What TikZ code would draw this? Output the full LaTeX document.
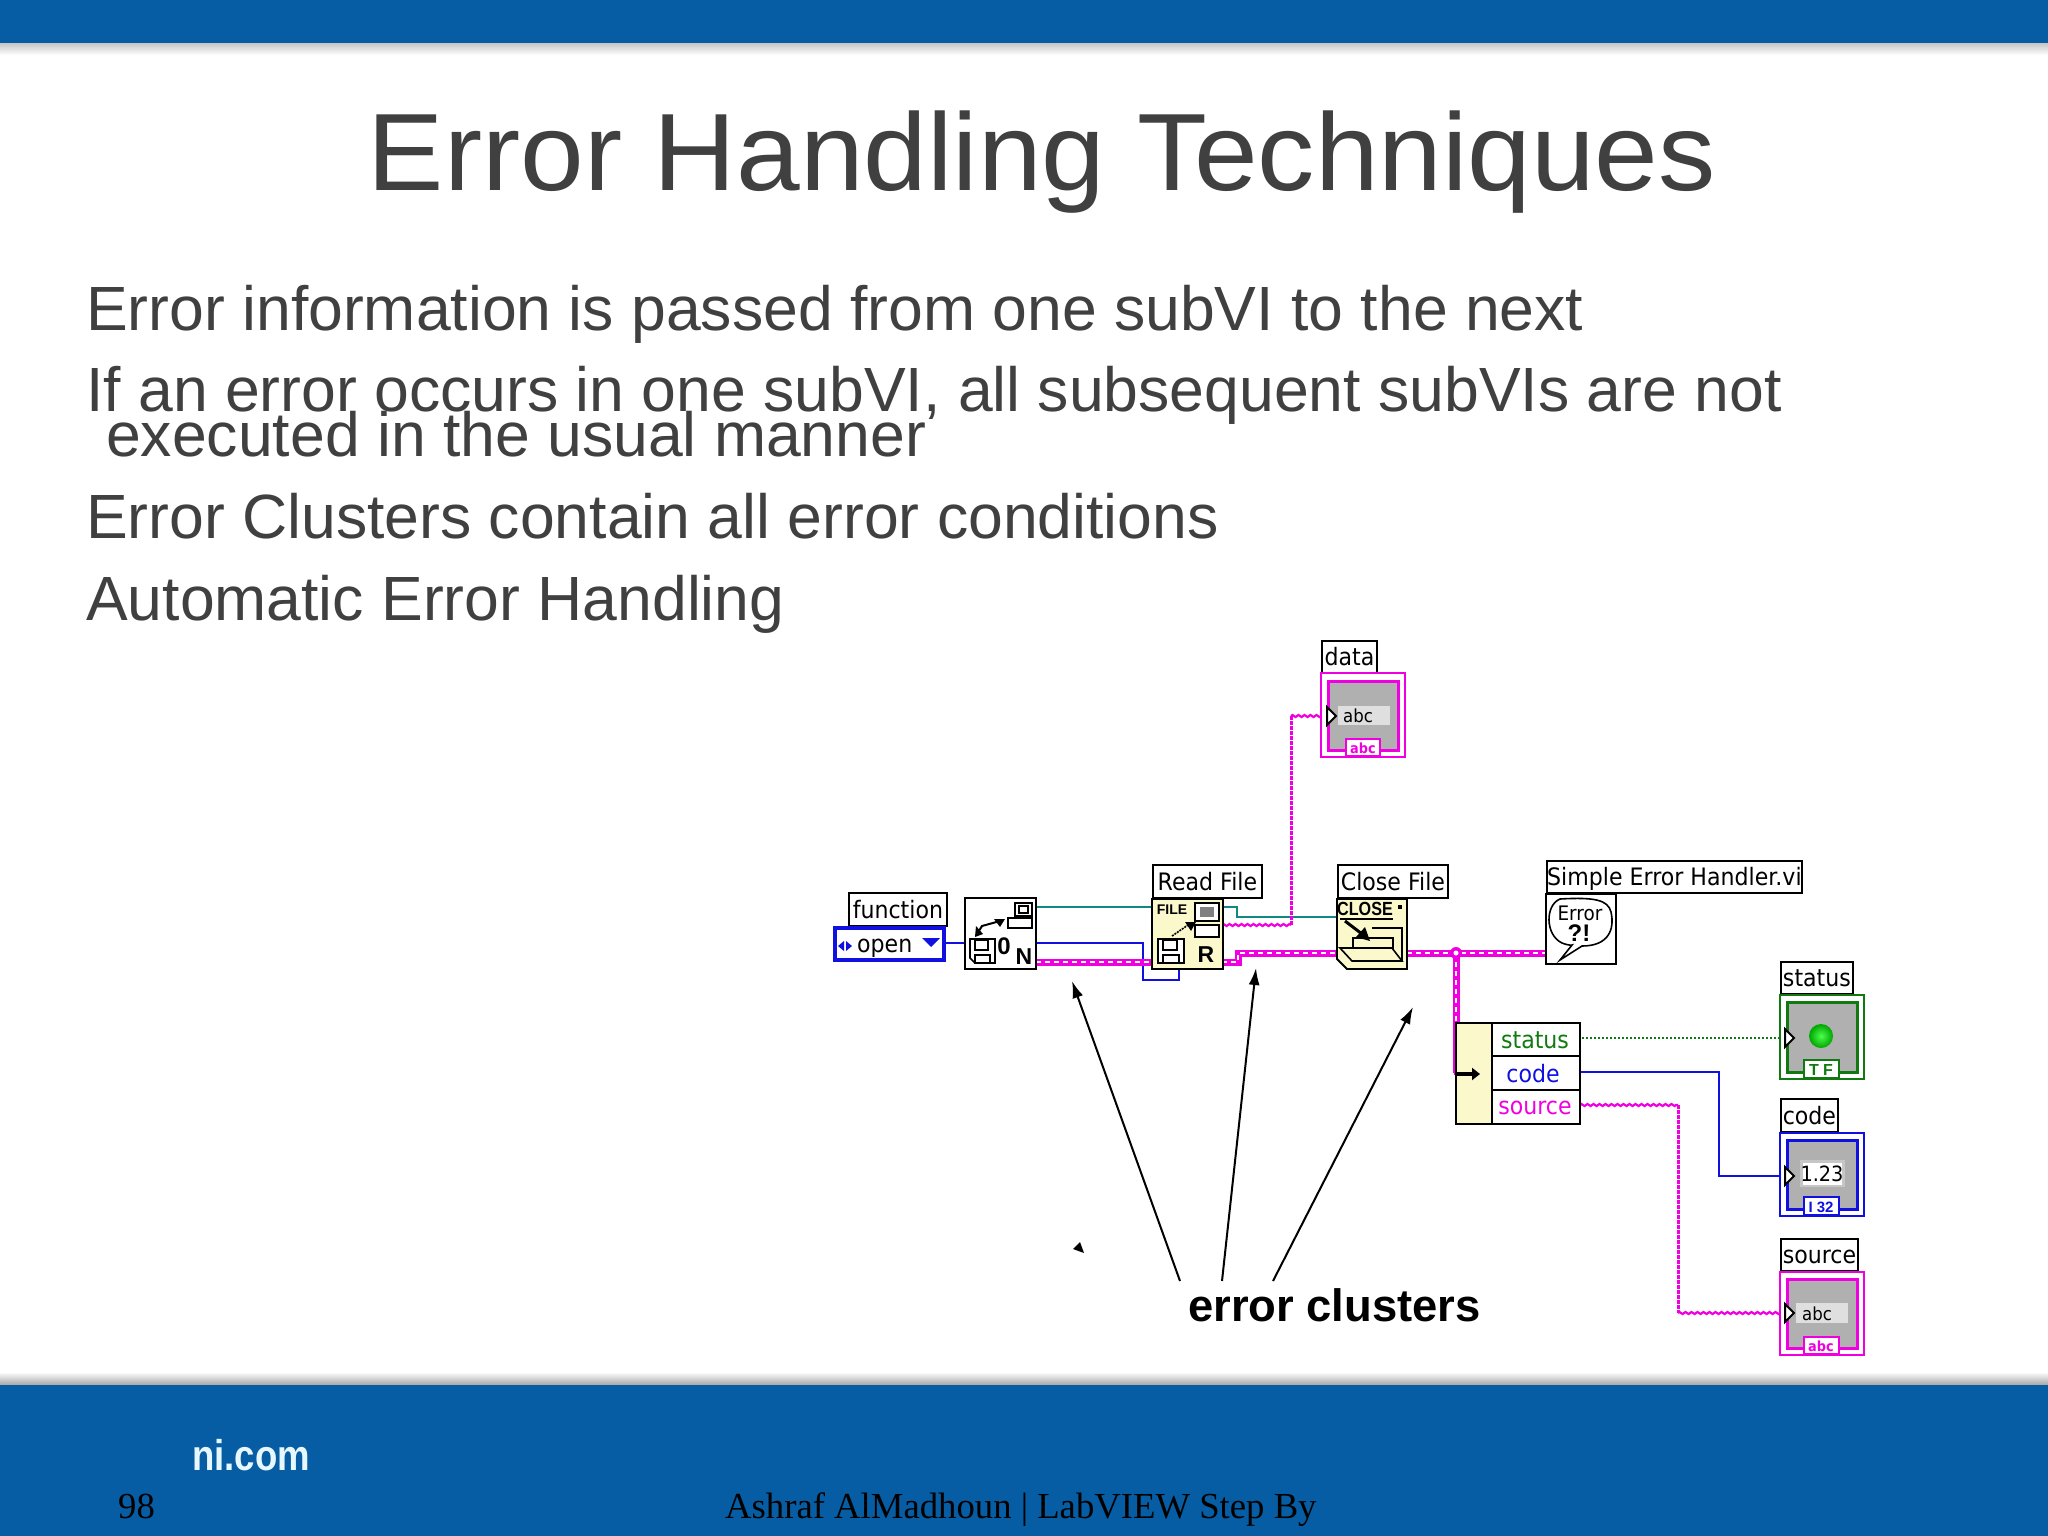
\documentclass[tikz,border=0pt]{standalone}
\usepackage{fontspec}
\setmainfont{Liberation Sans}
\newfontfamily\serifface{Liberation Serif}
\newfontfamily\lvfont[FakeStretch=0.92]{DejaVu Sans}
\newfontfamily\titleface[FakeStretch=1.04]{Liberation Sans}
\newfontfamily\condface[FakeStretch=0.85]{Liberation Sans}
\usetikzlibrary{arrows.meta,decorations.pathmorphing}
\definecolor{nibar}{HTML}{075DA3}
\definecolor{slidegray}{HTML}{404040}
\definecolor{lvpink}{HTML}{F000E0}
\definecolor{lvblue}{HTML}{1010E0}
\definecolor{lvgreen}{HTML}{107A10}
\definecolor{lvteal}{HTML}{108A80}
\definecolor{lvyellow}{HTML}{FBF8CC}
\definecolor{lvgray}{HTML}{B0B0B0}
\tikzset{
 x=1pt,y=-1pt,
 lab/.style={draw=black,line width=1.8pt,fill=white,inner sep=0pt,anchor=north west,text height=21pt,text depth=3pt,font=\lvfont\fontsize{24}{24}\selectfont,text=black},
 bodyline/.style={anchor=base west,inner sep=0pt,text=slidegray,font=\fontsize{62.5}{62.5}\selectfont},
 ptr/.style={line width=2pt,-{Latex[length=17pt,width=11pt]}},
 wiret/.style={lvteal,line width=2pt},
 wireb/.style={lvblue,line width=2pt},
 wirep/.style={lvpink,line width=2.2pt,decorate,decoration={zigzag,segment length=6pt,amplitude=1pt}},
 wirethick/.style={lvpink,line width=7pt},
 wirethin/.style={white,line width=2.2pt,dash pattern=on 5pt off 4pt},
 icon/.style={draw=black,line width=1.8pt,fill=white},
 ptxt/.style={inner sep=0pt,font=\lvfont\fontsize{24}{24}\selectfont},
 tri/.style={black,line width=2pt,fill=white},
}
\begin{document}
\begin{tikzpicture}
\useasboundingbox (0,0) rectangle (2048,1536);
\fill[white] (0,0) rectangle (2048,1536);
% bars
\shade[top color=gray!45,bottom color=white] (0,43) rectangle (2048,55);
\fill[nibar] (0,0) rectangle (2048,43);
\shade[top color=white,bottom color=gray!70] (0,1372) rectangle (2048,1385);
\fill[nibar] (0,1385) rectangle (2048,1536);
% title
\node[anchor=base,inner sep=0pt,text=slidegray,font=\titleface\fontsize{110}{110}\selectfont] (title) at (1042,190) {Error Handling Techniques};
\node[bodyline] (b1) at (86,330.5) {Error information is passed from one subVI to the next};
\node[bodyline] (b2) at (86,411.5) {If an error occurs in one subVI, all subsequent subVIs are not};
\node[bodyline] (b3) at (106,456.5) {executed in the usual manner};
\node[bodyline] (b4) at (86,538.5) {Error Clusters contain all error conditions};
\node[bodyline] (b5) at (86,620.5) {Automatic Error Handling};
% footer
\node[anchor=base west,inner sep=0pt,text=white!90!cyan,font=\condface\bfseries\fontsize{43}{43}\selectfont] (nicom) at (192,1470) {ni.com};
\node[anchor=base west,inner sep=0pt,text=black,font=\serifface\fontsize{36.7}{36.7}\selectfont] (pg) at (118,1518) {98};
\node[anchor=base west,inner sep=0pt,text=black,font=\serifface\fontsize{36.7}{36.7}\selectfont] (auth) at (725,1518) {Ashraf AlMadhoun | LabVIEW Step By};
% wires
\draw[wiret] (1036,907) -- (1151,907);
\draw[wiret] (1222,907) -- (1237,907) -- (1237,917) -- (1337,917);
\draw[wireb] (946,943) -- (965,943);
\draw[wireb] (1036,943) -- (1143,943) -- (1143,980) -- (1179,980) -- (1179,969);
\draw[wirep] (1222,925) -- (1291,925);
\draw[lvpink,line width=3pt,dash pattern=on 4pt off 1pt] (1291,925) -- (1291,716);
\draw[wirep] (1291,716) -- (1321,716);
\draw[wirethick] (1036,962) -- (1151,962);
\draw[wirethick] (1222,962) -- (1238,962) -- (1238,953) -- (1337,953);
\draw[wirethick] (1407,953) -- (1546,953);
\draw[wirethick] (1456,953) -- (1456,1073);
\draw[wirethin] (1036,962) -- (1151,962);
\draw[wirethin] (1222,962) -- (1238,962) -- (1238,953) -- (1337,953);
\draw[wirethin] (1407,953) -- (1546,953);
\draw[wirethin] (1456,953) -- (1456,1073);
\fill[lvpink] (1456,953) circle (6);
\fill[white] (1456,953) circle (2.5);
\draw[lvgreen,line width=1.8pt,dash pattern=on 2pt off 2pt] (1582,1038) -- (1780,1038);
\draw[wireb] (1580,1072) -- (1719,1072) -- (1719,1176) -- (1780,1176);
\draw[wirep] (1580,1105) -- (1678,1105);
\draw[lvpink,line width=3pt,dash pattern=on 4pt off 1pt] (1678,1105) -- (1678,1313);
\draw[wirep] (1678,1313) -- (1780,1313);
% enum control
\node[lab,minimum width=98pt,minimum height=33pt] (lfn) at (848,892) {function};
\draw[lvblue,line width=4pt,fill=white] (835,928) rectangle (944,960);
\node[anchor=west,ptxt] (op) at (857,948) {open};
\fill[lvblue] (838,946) -- (844,941) -- (844,951) -- cycle (852,946) -- (846,941) -- (846,951) -- cycle;
\fill[lvblue] (922,938) -- (940,938) -- (931,947) -- cycle;
% open icon
\draw[icon] (965,898) rectangle (1036,969);
\begin{scope}[line width=1.6pt]
\draw (1015,903) rectangle (1032,916); \draw (1019,906) rectangle (1028,913);
\draw (1008,918) rectangle (1032,928);
\draw (970,958) -- (970,939) -- (995,939) -- (995,963) -- (975,963) -- cycle;
\draw (975,940) rectangle (988,950); \draw (975,963) rectangle (990,955);
\draw[line width=2pt] (977,934) -- (982,926) -- (1000,921);
\fill (1005,919) -- (994,919) -- (1000,927) -- cycle;
\fill (975,937) -- (983,934) -- (976,926) -- cycle;
\end{scope}
\node[inner sep=0pt,font=\bfseries\fontsize{24}{24}\selectfont] (o0) at (1004,946) {0};
\node[inner sep=0pt,font=\bfseries\fontsize{23}{23}\selectfont] (oN) at (1024,957) {N};
% read icon
\draw[icon,fill=lvyellow] (1152,899) rectangle (1223,969);
\node[inner sep=0pt,font=\bfseries\fontsize{14}{14}\selectfont] (rf) at (1172,910) {FILE};
\begin{scope}[line width=1.6pt]
\draw[fill=white] (1195,903) rectangle (1219,921); \fill[gray] (1200,907) rectangle (1214,917);
\draw[fill=white] (1195,925) rectangle (1219,937);
\draw[fill=white] (1158,939) rectangle (1184,963);
\draw (1163,940) rectangle (1177,950); \draw (1163,963) rectangle (1179,955);
\draw[dash pattern=on 2pt off 1pt] (1172,936) -- (1188,925);
\fill (1196,922) -- (1185,922) -- (1191,931) -- cycle;
\end{scope}
\node[inner sep=0pt,font=\bfseries\fontsize{23}{23}\selectfont] (rR) at (1206,955) {R};
% close icon
\draw[icon,fill=lvyellow] (1337,899) -- (1407,899) -- (1407,969) -- (1347,969) -- (1337,959) -- cycle;
\node[inner sep=0pt,font=\condface\bfseries\fontsize{19}{19}\selectfont] (cl) at (1365,909) {CLOSE};
\begin{scope}[line width=1.6pt]
\draw (1340,919) -- (1393,919);
\draw (1353,938) rectangle (1393,948);
\draw (1372,928) -- (1402,928) -- (1402,961);
\draw (1340,948) -- (1392,948) -- (1402,961) -- (1352,961) -- cycle;
\draw[line width=3pt] (1345,921) -- (1362,934);
\fill (1370,941) -- (1356,937) -- (1365,927) -- cycle;
\end{scope}
\fill (1398,905) rectangle (1402,909);
% labels
\node[lab,minimum width=109pt,minimum height=33pt] (lread) at (1152,864) {Read File};
\node[lab,minimum width=110pt,minimum height=33pt] (lclose) at (1337,864) {Close File};
\node[lab,minimum width=255pt,minimum height=32pt] (lsimple) at (1546,860) {Simple Error Handler.vi};
% error handler icon
\draw[icon] (1546,894) rectangle (1616,964);
\draw[line width=1.6pt,fill=white] (1560,899) .. controls (1545,905) and (1545,935) .. (1562,943) .. controls (1570,946) and (1572,945) .. (1572,945) -- (1560,960) -- (1582,946) .. controls (1608,946) and (1615,930) .. (1611,912) .. controls (1608,900) and (1595,897) .. (1560,899) -- cycle;
\node[inner sep=0pt,font=\lvfont\fontsize{20}{20}\selectfont] (eE) at (1580,913) {Error};
\node[inner sep=0pt,font=\bfseries\fontsize{24}{24}\selectfont] (eQ) at (1579,933) {?!};
% unbundle
\draw[lvpink,line width=2.5pt] (1455,1023) -- (1455,1075);
\draw[icon,fill=lvyellow] (1456,1023) rectangle (1492,1124);
\draw[icon] (1492,1023) rectangle (1580,1056);
\draw[icon] (1492,1056) rectangle (1580,1090);
\draw[icon] (1492,1090) rectangle (1580,1124);
\node[ptxt,text=lvgreen] (us) at (1535,1040) {status};
\node[ptxt,text=lvblue] (uc) at (1533,1074) {code};
\node[ptxt,text=lvpink] (uo) at (1535,1108) {source};
\draw[-{Triangle[length=8pt,width=12pt]},line width=4pt,black] (1456,1074) -- (1480,1074);
% data
\node[lab,minimum width=55pt,minimum height=32pt] (ldata) at (1321,640) {data};
\draw[lvpink,line width=2.5pt,fill=white] (1321,673) rectangle (1405,757);
\draw[lvpink,line width=3pt,fill=lvgray] (1328,681) rectangle (1398,750);
\draw[lvpink,line width=2.5pt,fill=white] (1346,750) -- (1346,739) -- (1380,739) -- (1380,756) -- (1346,756) -- cycle;
\fill[gray!25] (1338,706) rectangle (1390,725);
\node[inner sep=0pt,font=\lvfont\fontsize{18}{18}\selectfont] (dabc) at (1358,716) {abc};
\node[inner sep=0pt,text=lvpink,font=\lvfont\bfseries\fontsize{14}{14}\selectfont] (dtab) at (1363,748) {abc};
\draw[tri] (1327,707) -- (1336,716) -- (1327,725) -- cycle;
% status
\node[lab,minimum width=72pt,minimum height=32pt] (lstatus) at (1780,961) {status};
\draw[lvgreen,line width=2.5pt,fill=white] (1780,995) rectangle (1864,1079);
\draw[lvgreen,line width=3pt,fill=lvgray] (1787,1002) rectangle (1857,1072);
\draw[lvgreen,line width=2.5pt,fill=white] (1804,1072) -- (1804,1060) -- (1839,1060) -- (1839,1078) -- (1804,1078) -- cycle;
\node[inner sep=0pt,text=lvgreen,font=\bfseries\fontsize{16}{16}\selectfont] (stab) at (1821,1070) {T F};
\shade[inner color=green!70!white,outer color=green!65!black] (1821,1036) circle (12);
\draw[tri] (1785,1029) -- (1794,1038) -- (1785,1047) -- cycle;
% code
\node[lab,minimum width=57pt,minimum height=33pt] (lcode) at (1780,1098) {code};
\draw[lvblue,line width=2.5pt,fill=white] (1780,1133) rectangle (1864,1216);
\draw[lvblue,line width=3pt,fill=lvgray] (1787,1140) rectangle (1857,1209);
\draw[lvblue,line width=2.5pt,fill=white] (1804,1209) -- (1804,1197) -- (1839,1197) -- (1839,1215) -- (1804,1215) -- cycle;
\node[inner sep=0pt,text=lvblue,font=\bfseries\fontsize{15}{15}\selectfont] (ctab) at (1821,1207) {I 32};
\fill[gray!45] (1800,1160) rectangle (1845,1187);
\fill[white] (1803,1163) rectangle (1842,1185);
\node[inner sep=0pt,font=\lvfont\fontsize{21}{21}\selectfont] (c123) at (1822,1174) {1.23};
\draw[tri] (1785,1167) -- (1794,1176) -- (1785,1185) -- cycle;
% source
\node[lab,minimum width=77pt,minimum height=32pt] (lsource) at (1780,1238) {source};
\draw[lvpink,line width=2.5pt,fill=white] (1780,1272) rectangle (1864,1355);
\draw[lvpink,line width=3pt,fill=lvgray] (1787,1279) rectangle (1857,1348);
\draw[lvpink,line width=2.5pt,fill=white] (1804,1348) -- (1804,1337) -- (1839,1337) -- (1839,1354) -- (1804,1354) -- cycle;
\fill[gray!25] (1796,1303) rectangle (1848,1323);
\node[inner sep=0pt,font=\lvfont\fontsize{18}{18}\selectfont] (sabc) at (1817,1314) {abc};
\node[inner sep=0pt,text=lvpink,font=\lvfont\bfseries\fontsize{14}{14}\selectfont] (stabb) at (1821,1346) {abc};
\draw[tri] (1785,1304) -- (1794,1313) -- (1785,1322) -- cycle;
% pointers
\node[anchor=base west,inner sep=0pt,font=\bfseries\fontsize{45.4}{45.4}\selectfont] (ec) at (1188,1321) {error clusters};
\coordinate (t1) at (1072,981); \coordinate (t2) at (1256,968); \coordinate (t3) at (1413,1007);
\coordinate (s1) at (1180,1281); \coordinate (s2) at (1222,1281); \coordinate (s3) at (1273,1281);
\draw[ptr] (s1) -- (t1);
\draw[ptr] (s2) -- (t2);
\draw[ptr] (s3) -- (t3);
\fill (1080,1242) -- (1073,1249) -- (1084,1253) -- cycle;
\end{tikzpicture}
\end{document}
